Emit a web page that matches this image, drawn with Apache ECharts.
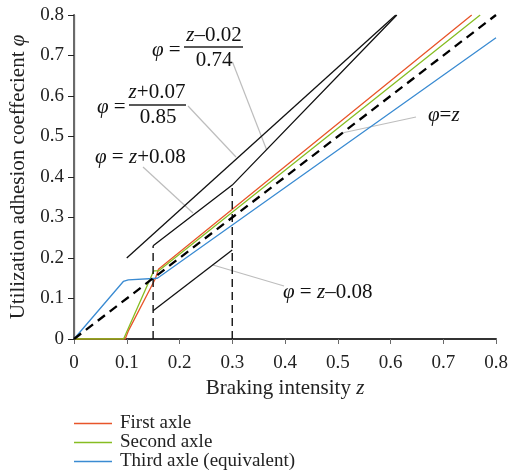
<!DOCTYPE html>
<html>
<head>
<meta charset="utf-8">
<script src="https://cdn.jsdelivr.net/npm/echarts@6/dist/echarts.min.js"></script>
<style>
html,body{margin:0;padding:0;background:#fff;}
#chart{width:508px;height:474px;}
</style>
</head>
<body>
<div id="chart"></div>
<script>
// ---- data (z, phi) ----
const seriesNames = ['First axle', 'Second axle', 'Third axle (equivalent)'];
const firstAxle  = [[0,0],[0.097,0],[0.103,0.02],[0.154,0.148],[0.16,0.172],[0.754,0.8]];
const secondAxle = [[0,0],[0.094,0],[0.151,0.168],[0.16,0.168],[0.77,0.8]];
const thirdAxle  = [[0,0],[0.0935,0.142],[0.103,0.146],[0.158,0.15],[0.8,0.744]];
const idealLine  = [[0,0],[0.8,0.8]];                       // phi = z
const upperLimitA = [[0.1,0.2],[0.61,0.8]];                 // phi = (z+0.07)/0.85
const upperLimitB = [[0.15,0.23],[0.3,0.38],[0.612,0.8]];   // phi = z+0.08, then (z-0.02)/0.74
const lowerLimit  = [[0.15,0.07],[0.3,0.22]];               // phi = z-0.08
const boundZ15 = [[0.15,0],[0.15,0.23]];
const boundZ30 = [[0.3,0],[0.3,0.38]];
const xTickLabels = ['0','0.1','0.2','0.3','0.4','0.5','0.6','0.7','0.8'];
const yTickLabels = ['0','0.1','0.2','0.3','0.4','0.5','0.6','0.7','0.8'];

const FONT = 'Liberation Serif';
const colors = ['#e8552a', '#86bd22', '#3a8bd2'];

function lineSeries(name, data, color, width, dash, legend) {
  return {
    name: legend ? name : undefined,
    type: 'line', data: data, symbol: 'none', showSymbol: false, silent: true,
    animation: false,
    lineStyle: { color: color, width: width, type: dash || 'solid' },
    itemStyle: { color: color }
  };
}

const chart = echarts.init(document.getElementById('chart'));
const gray = '#bdbdbd';
const annFont = 21;

const richStyles = {
  i: { fontFamily: FONT, fontStyle: 'italic', fontSize: annFont, fill: '#111', color: '#111' },
  n: { fontFamily: FONT, fontSize: annFont, fill: '#111', color: '#111' }
};
function txt(x, y, rich, align) {
  return { type: 'text', x: x, y: y, silent: true,
    style: { rich: richStyles, text: rich, align: align || 'left', verticalAlign: 'middle',
      fontFamily: FONT, fontSize: annFont, fill: '#111' } };
}
function leader(x1, y1, x2, y2) {
  return { type: 'line', shape: { x1: x1, y1: y1, x2: x2, y2: y2 }, style: { stroke: gray, lineWidth: 1.2 }, silent: true };
}
function bar(x1, x2, y) {
  return { type: 'line', shape: { x1: x1, y1: y, x2: x2, y2: y }, style: { stroke: '#222', lineWidth: 1.4 }, silent: true };
}

const option = {
  animation: false,
  backgroundColor: '#fff',
  grid: { left: 74, right: 12, top: 15, bottom: 135, containLabel: false, outerBoundsMode: 'none' },
  xAxis: [{
    type: 'value', min: 0, max: 0.8, interval: 0.1, position: 'bottom',
    name: 'Braking intensity {i|z}', nameLocation: 'middle', nameGap: 38,
    nameTextStyle: { fontFamily: FONT, fontSize: 21, color: '#222',
      rich: { i: { fontFamily: FONT, fontStyle: 'italic', fontSize: 21, color: '#222' } } },
    axisLine: { show: true, lineStyle: { color: '#6a6a6a', width: 2 } },
    axisTick: { show: true, length: 5, lineStyle: { color: '#6a6a6a' } },
    axisLabel: { fontFamily: FONT, fontSize: 19, color: '#222', margin: 15,
      formatter: function (v) { return xTickLabels[Math.round(v * 10)]; } },
    splitLine: { show: false }
  }, {
    type: 'value', min: 0, max: 0.8, position: 'top',
    axisLine: { show: true, lineStyle: { color: '#222', width: 1.5 } },
    axisTick: { show: false }, axisLabel: { show: false }, splitLine: { show: false }
  }],
  yAxis: [{
    type: 'value', min: 0, max: 0.8, interval: 0.1, position: 'left',
    name: 'Utilization adhesion coeffecient {i|φ}', nameLocation: 'middle', nameGap: 45, nameRotate: 90,
    nameTextStyle: { fontFamily: FONT, fontSize: 21, color: '#222',
      rich: { i: { fontFamily: FONT, fontStyle: 'italic', fontSize: 21, color: '#222' } } },
    axisLine: { show: true, lineStyle: { color: '#222', width: 1.2 } },
    axisTick: { show: true, length: 6, lineStyle: { color: '#222' } },
    axisLabel: { fontFamily: FONT, fontSize: 19, color: '#222', margin: 10,
      formatter: function (v) { return yTickLabels[Math.round(v * 10)]; } },
    splitLine: { show: false }
  }, {
    type: 'value', min: 0, max: 0.8, position: 'right',
    axisLine: { show: true, lineStyle: { color: '#6a6a6a', width: 2 } },
    axisTick: { show: false }, axisLabel: { show: false }, splitLine: { show: false }
  }],
  legend: {
    orient: 'vertical', left: 74, top: 414, itemGap: 0, padding: 0,
    itemWidth: 38, itemHeight: 1.5, icon: 'rect',
    data: seriesNames,
    textStyle: { fontFamily: FONT, fontSize: 19, color: '#222', lineHeight: 19, padding: [0,0,0,3] }
  },
  series: [
    lineSeries(seriesNames[0], firstAxle, colors[0], 1.3, null, true),
    lineSeries(seriesNames[1], secondAxle, colors[1], 1.3, null, true),
    lineSeries(seriesNames[2], thirdAxle, colors[2], 1.3, null, true),
    lineSeries('ua', upperLimitA, '#111', 1.3),
    lineSeries('ub', upperLimitB, '#111', 1.3),
    lineSeries('lo', lowerLimit, '#111', 1.3),
    lineSeries('v15', boundZ15, '#111', 1.4, [8, 5]),
    lineSeries('v30', boundZ30, '#111', 1.4, [8, 5]),
    lineSeries('ideal', idealLine, '#000', 2.3, [9, 6])
  ],
  graphic: [
    leader(232.5, 62, 266.7, 150),
    leader(188, 106, 236, 157),
    leader(143, 167, 193, 213),
    leader(416, 117, 342, 133),
    leader(284, 286, 213, 265),
    txt(152, 50, '{i|φ} {n|=}'),
    txt(214, 35, '{i|z}{n|–0.02}', 'center'),
    bar(184, 243, 47),
    txt(214, 60, '{n|0.74}', 'center'),
    txt(97, 107, '{i|φ} {n|=}'),
    txt(157, 92, '{i|z}{n|+0.07}', 'center'),
    bar(129, 186, 105),
    txt(158, 117, '{n|0.85}', 'center'),
    txt(95, 157, '{i|φ} {n|=} {i|z}{n|+0.08}'),
    txt(428, 115, '{i|φ}{n|=}{i|z}'),
    txt(283, 292, '{i|φ} {n|=} {i|z}{n|–0.08}')
  ]
};
chart.setOption(option);
</script>
</body>
</html>
